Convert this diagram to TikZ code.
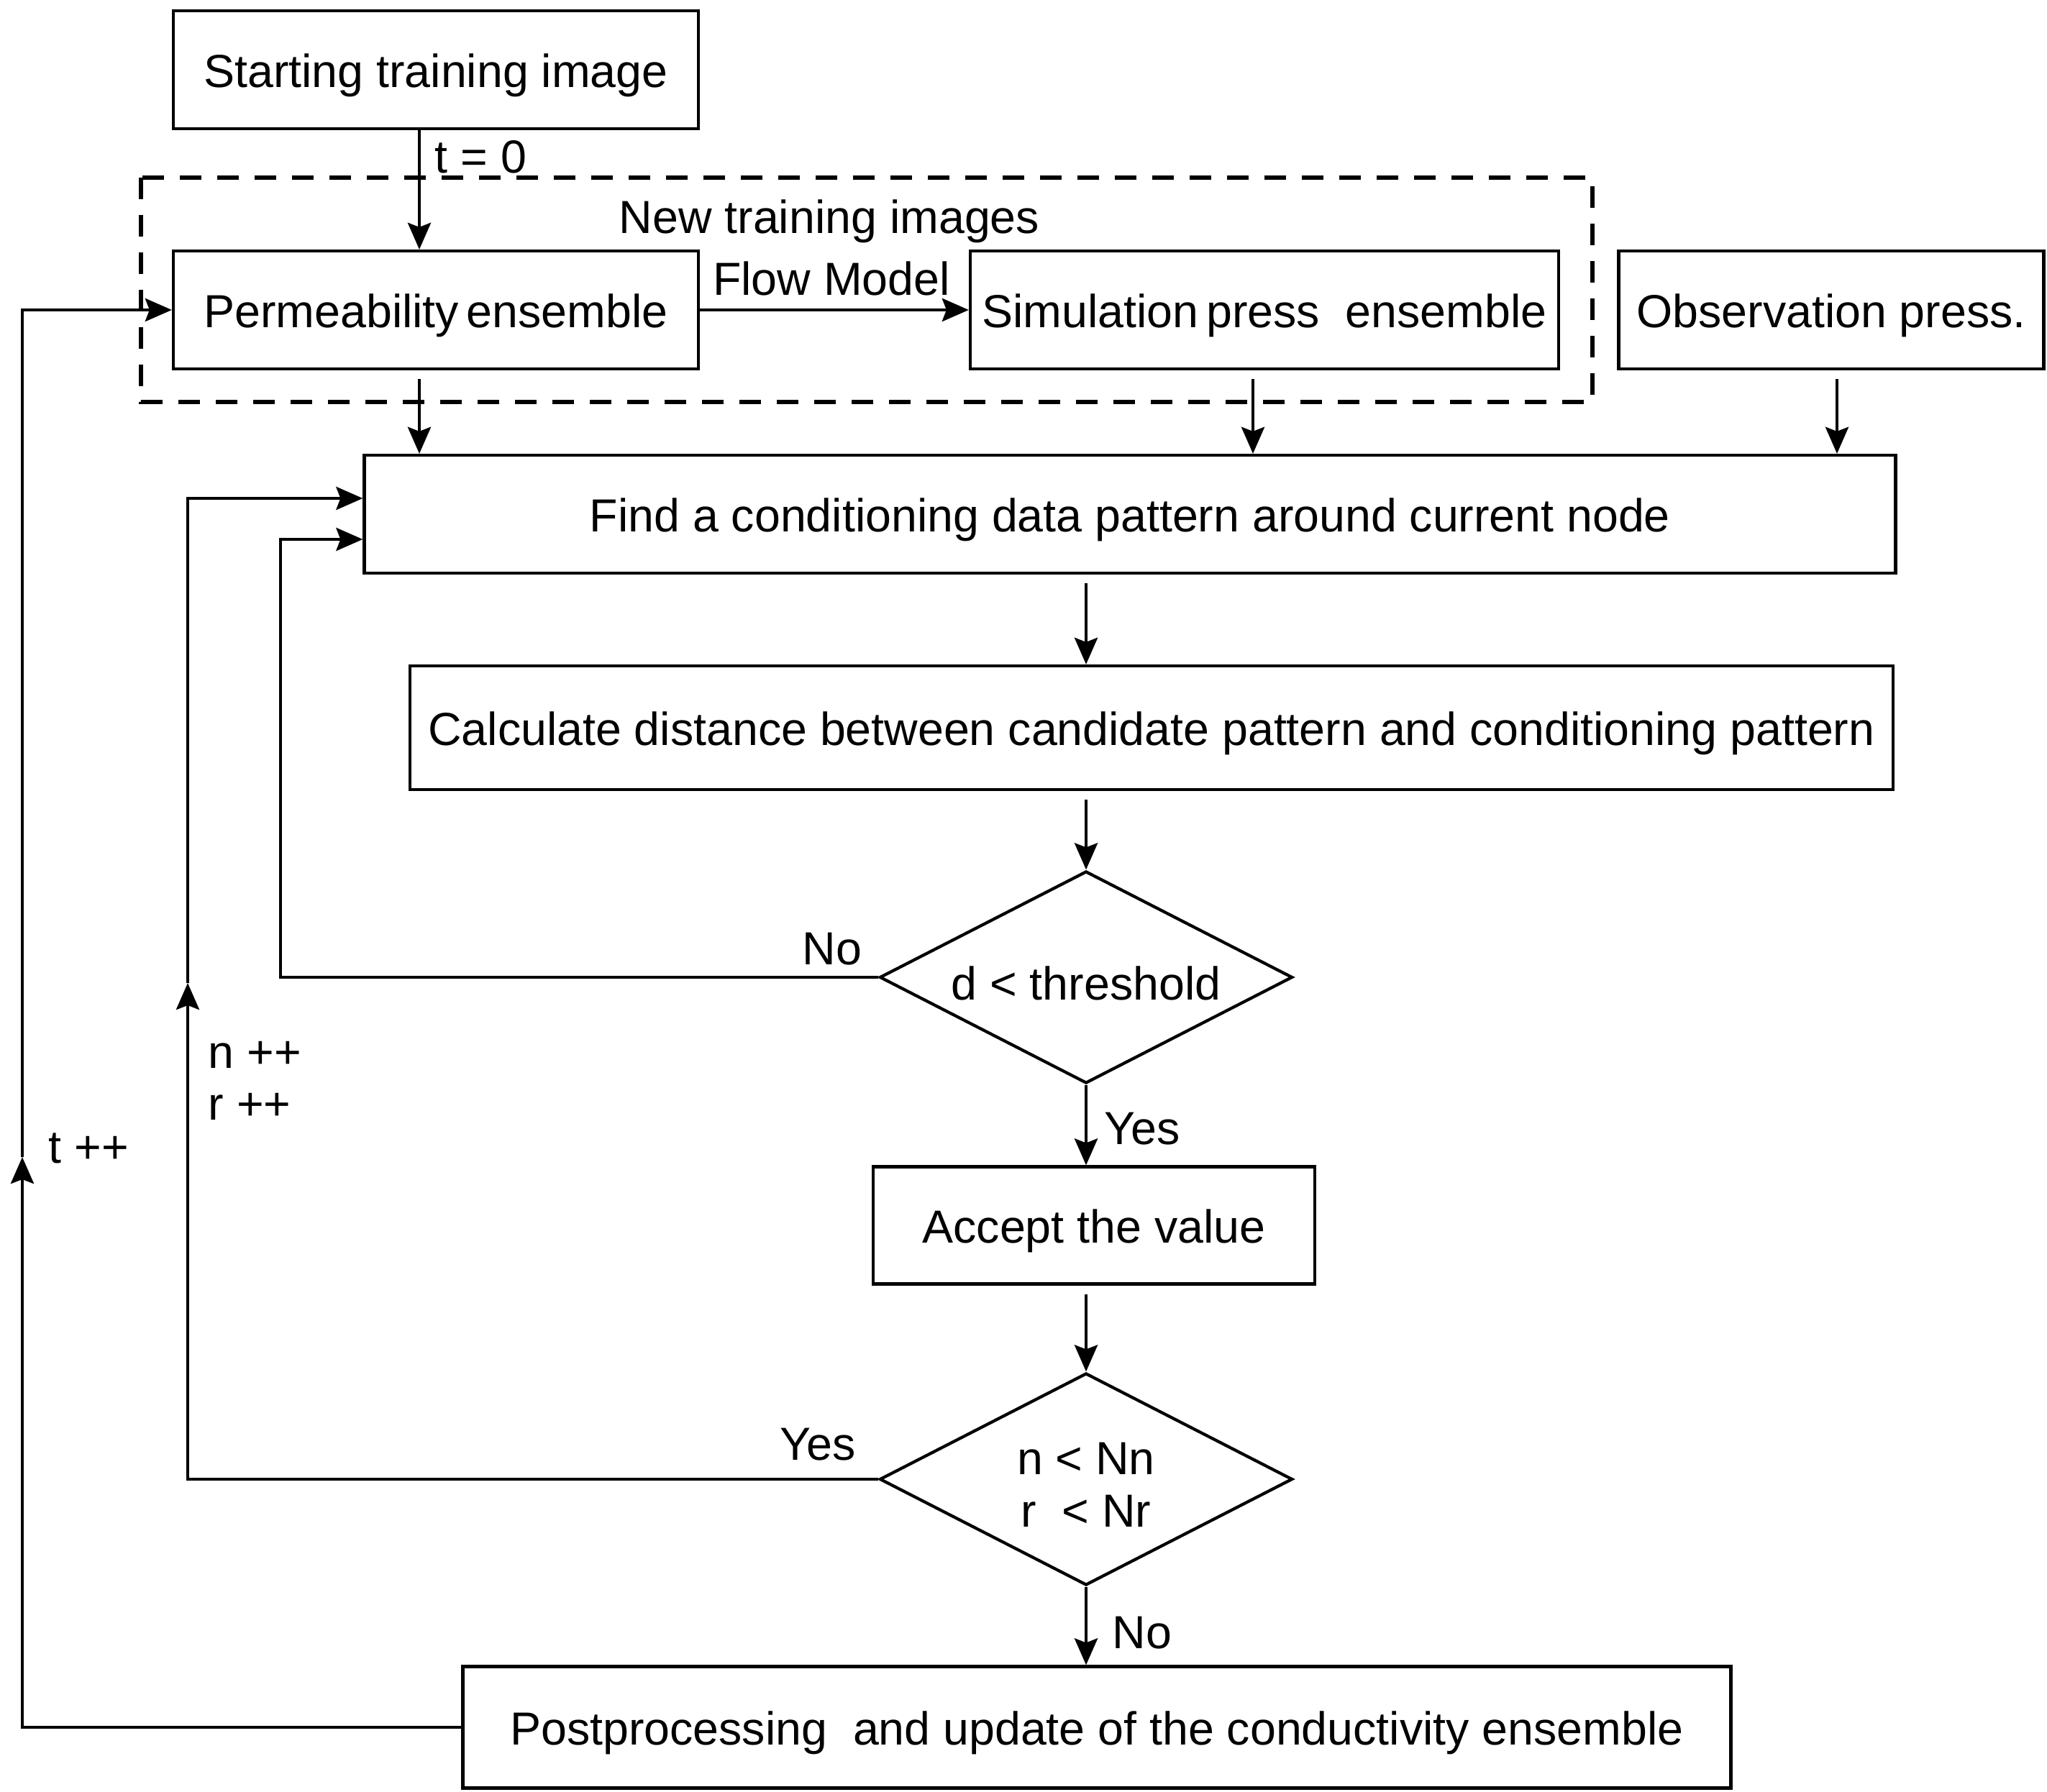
\documentclass[tikz,border=0pt]{standalone}
\usepackage{fontspec}
\setmainfont{Liberation Sans}
\usetikzlibrary{shapes.geometric,arrows.meta}

\begin{document}
\begin{tikzpicture}[font=\fontsize{18.35}{20.6}\selectfont]
  \tikzstyle{block} = [rectangle, draw, line width=1.2pt, inner sep=0pt, minimum height=1.64cm, text height=17.7pt, text depth=3.85pt]
  \tikzstyle{decision} = [diamond, draw, line width=1.2pt, inner sep=0pt, aspect=2, minimum width=5.74cm, minimum height=2.95cm, align=center, text depth=0pt]
  \tikzstyle{arrow} = [line width=1.3pt,-{Stealth[length=3.7mm,width=3.2mm,inset=0.6mm]}]
  \tikzstyle{group} = [line width=1.6pt, dash pattern=on 3mm off 2.2mm]

  \useasboundingbox (0,0) rectangle (28.46,-24.92);

  % Top row
  \node [block, minimum width=7.3cm] (start) at (6.06,-0.97) {Starting training image};
  \draw [group] (1.96,-2.47) rectangle (22.14,-5.59);
  \node [block, minimum width=7.3cm] (perm) at (6.06,-4.31) {Permeability\,ensemble};
  \node [block, minimum width=8.18cm] (sim) at (17.58,-4.31) {Simulation\,press\ \ ensemble};
  \node [block, minimum width=5.91cm] (obs) at (25.46,-4.31) {Observation press.};

  % Main column
  \node [block, minimum width=21.29cm] (find) at (15.71,-7.15) {Find a conditioning data pattern around current node};
  \node [block, minimum width=20.62cm, minimum height=1.72cm] (calc) at (16.01,-10.12) {Calculate distance between candidate pattern and conditioning pattern};
  \node [decision, text height=18.1pt] (dist) at (15.10,-13.59) {d < threshold};
  \node [block, minimum width=6.14cm, minimum height=1.63cm] (accept) at (15.21,-17.04) {Accept the value};
  \node [decision, text height=37.7pt] (count) at (15.10,-20.57) {n < Nn\\r \ < Nr};
  \node [block, minimum width=17.63cm, minimum height=1.69cm] (post) at (15.25,-24.02) {Postprocessing \ and update of the conductivity ensemble};

  % Labels
  \node [right, inner sep=0pt] at (6.04,-2.18) {t = 0};
  \node at (11.53,-3.08) {New training images};
  \node at (11.56,-3.87) {Flow Model};
  \node at (11.57,-13.20) {No};
  \node [right, inner sep=0pt] at (15.35,-15.70) {Yes};
  \node [right, inner sep=0pt, align=left] at (2.89,-15.03) {n ++\\r ++};
  \node [right, inner sep=0pt] at (0.67,-15.97) {t ++};
  \node at (11.37,-20.09) {Yes};
  \node [right, inner sep=0pt] at (15.46,-22.71) {No};

  % Forward arrows
  \draw [arrow] ([xshift=-2.3mm]start.south) -- ([xshift=-2.3mm]perm.north);
  \draw [arrow] (perm.east) -- (sim.west);
  \draw [arrow, shorten <=1.2mm] ([xshift=-2.3mm]perm.south) -- ([xshift=-2.3mm]perm.south |- find.north);
  \draw [arrow, shorten <=1.2mm] ([xshift=-1.6mm]sim.south) -- ([xshift=-1.6mm]sim.south |- find.north);
  \draw [arrow, shorten <=1.2mm] ([xshift=0.8mm]obs.south) -- ([xshift=0.8mm]obs.south |- find.north);
  \draw [arrow, shorten <=1.2mm] (find.south -| dist.north) -- (calc.north -| dist.north);
  \draw [arrow, shorten <=1.2mm] (calc.south -| dist.north) -- (dist.north);
  \draw [arrow] (dist.south) -- (accept.north -| dist.south);
  \draw [arrow, shorten <=1.2mm] (accept.south -| count.north) -- (count.north);
  \draw [arrow] (count.south) -- (post.north -| count.south);

  % Feedback loops
  \coordinate (nbend) at (3.90,-13.59);
  \draw [arrow] (dist.west) -- (nbend) |- ([yshift=-3.5mm]find.west);
  \coordinate (rmid) at (2.61,-13.67);
  \draw [arrow] (count.west) -| (rmid);
  \draw [arrow] (rmid) |- ([yshift=2.2mm]find.west);
  \coordinate (tmid) at (0.31,-16.09);
  \draw [arrow] (post.west) -| (tmid);
  \draw [arrow] (tmid) |- (perm.west);
\end{tikzpicture}
\end{document}
